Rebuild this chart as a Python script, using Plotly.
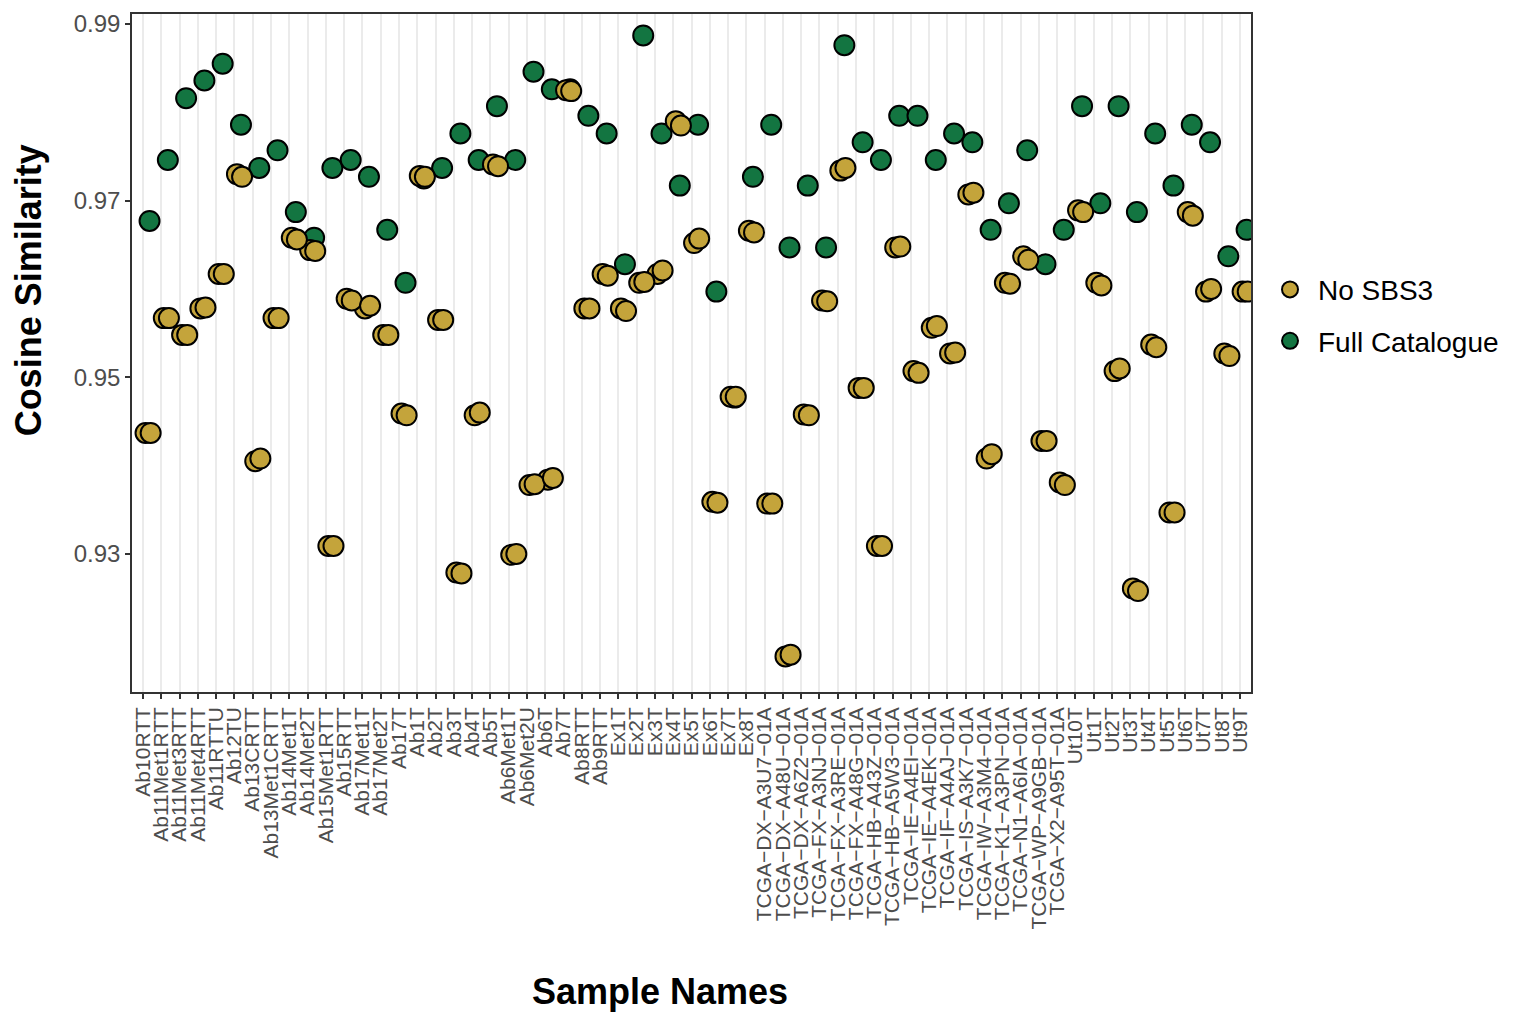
import plotly.graph_objects as go

# Sample names along the x axis
samples = [
    "Ab10RTT", "Ab11Met1RTT", "Ab11Met3RTT", "Ab11Met4RTT", "Ab11RTTU", "Ab12TU",
    "Ab13CRTT", "Ab13Met1CRTT", "Ab14Met1T", "Ab14Met2T", "Ab15Met1RTT", "Ab15RTT",
    "Ab17Met1T", "Ab17Met2T", "Ab17T", "Ab1T", "Ab2T", "Ab3T", "Ab4T", "Ab5T",
    "Ab6Met1T", "Ab6Met2U", "Ab6T", "Ab7T", "Ab8RTT", "Ab9RTT",
    "Ex1T", "Ex2T", "Ex3T", "Ex4T", "Ex5T", "Ex6T", "Ex7T", "Ex8T",
    "TCGA−DX−A3U7−01A", "TCGA−DX−A48U−01A", "TCGA−DX−A6Z2−01A", "TCGA−FX−A3NJ−01A",
    "TCGA−FX−A3RE−01A", "TCGA−FX−A48G−01A", "TCGA−HB−A43Z−01A", "TCGA−HB−A5W3−01A",
    "TCGA−IE−A4EI−01A", "TCGA−IE−A4EK−01A", "TCGA−IF−A4AJ−01A", "TCGA−IS−A3K7−01A",
    "TCGA−IW−A3M4−01A", "TCGA−K1−A3PN−01A", "TCGA−N1−A6IA−01A", "TCGA−WP−A9GB−01A",
    "TCGA−X2−A95T−01A",
    "Ut10T", "Ut1T", "Ut2T", "Ut3T", "Ut4T", "Ut5T", "Ut6T", "Ut7T", "Ut8T", "Ut9T",
]

# Cosine similarity, full catalogue fit
full_catalogue = [
    0.9677, 0.9746, 0.9816, 0.9836, 0.9855, 0.9786,
    0.9737, 0.9757, 0.9687, 0.9658, 0.9737, 0.9746,
    0.9727, 0.9667, 0.9607, 0.9725, 0.9737, 0.9776, 0.9746, 0.9807,
    0.9746, 0.9846, 0.9826, 0.9826, 0.9796, 0.9776,
    0.9628, 0.9887, 0.9776, 0.9717, 0.9786, 0.9597, 0.9477, 0.9727,
    0.9786, 0.9647, 0.9717, 0.9647,
    0.9876, 0.9766, 0.9746, 0.9796,
    0.9796, 0.9746, 0.9776, 0.9766,
    0.9667, 0.9697, 0.9757, 0.9628,
    0.9667,
    0.9807, 0.9697, 0.9807, 0.9687, 0.9776, 0.9717, 0.9786, 0.9766, 0.9637, 0.9667,
]

# Cosine similarity without SBS3, replicate fits A and B
no_sbs3_a = [
    0.9437, 0.9567, 0.9548, 0.9578, 0.9617, 0.9730,
    0.9405, 0.9567, 0.9658, 0.9644, 0.9309, 0.9589,
    0.9578, 0.9548, 0.9459, 0.9728, 0.9565, 0.9279, 0.9457, 0.9741,
    0.9299, 0.9378, 0.9384, 0.9825, 0.9578, 0.9617,
    0.9578, 0.9607, 0.9617, 0.9790, 0.9652, 0.9359, 0.9478, 0.9666,
    0.9357, 0.9184, 0.9458, 0.9587,
    0.9734, 0.9488, 0.9309, 0.9647,
    0.9507, 0.9556, 0.9527, 0.9707,
    0.9408, 0.9607, 0.9637, 0.9428,
    0.9381,
    0.9689, 0.9607, 0.9507, 0.9261, 0.9537, 0.9347, 0.9687, 0.9597, 0.9527, 0.9597,
]
no_sbs3_b = [
    0.9437, 0.9567, 0.9548, 0.9579, 0.9617, 0.9727,
    0.9408, 0.9567, 0.9656, 0.9643, 0.9309, 0.9587,
    0.9581, 0.9548, 0.9457, 0.9727, 0.9565, 0.9278, 0.9460, 0.9739,
    0.9300, 0.9379, 0.9386, 0.9824, 0.9578, 0.9615,
    0.9575, 0.9608, 0.9621, 0.9785, 0.9657, 0.9358, 0.9478, 0.9664,
    0.9357, 0.9186, 0.9457, 0.9586,
    0.9737, 0.9488, 0.9309, 0.9648,
    0.9505, 0.9558, 0.9528, 0.9709,
    0.9413, 0.9606, 0.9633, 0.9428,
    0.9378,
    0.9687, 0.9604, 0.9510, 0.9258, 0.9534, 0.9347, 0.9683, 0.9600, 0.9524, 0.9597,
]

y_ticks = [0.93, 0.95, 0.97, 0.99]

GOLD = "#C4A43B"
GREEN = "#137541"
positions = list(range(1, len(samples) + 1))

marker_common = dict(size=20, line=dict(color="black", width=2))

fig = go.Figure()
fig.add_trace(go.Scatter(
    x=[p + 0.36 for p in positions], y=full_catalogue, mode="markers",
    name="Full Catalogue", legendrank=2,
    marker=dict(color=GREEN, **marker_common),
))
fig.add_trace(go.Scatter(
    x=[p + 0.14 for p in positions], y=no_sbs3_a, mode="markers",
    name="No SBS3", legendrank=1, legendgroup="nosbs3",
    marker=dict(color=GOLD, **marker_common),
))
fig.add_trace(go.Scatter(
    x=[p + 0.42 for p in positions], y=no_sbs3_b, mode="markers",
    name="No SBS3", legendgroup="nosbs3", showlegend=False,
    marker=dict(color=GOLD, **marker_common),
))

L, R, T, B = 132, 1251, 10, 692
W, H = 1531, 1014


def px_x(px):
    return (px - L) / (R - L)


def px_y(py):
    return (B - py) / (B - T)


fig.update_layout(
    width=W, height=H,
    margin=dict(l=L, r=W - R, t=T, b=H - B, pad=0),
    paper_bgcolor="white", plot_bgcolor="white",
    font=dict(family="Liberation Sans, Arial, sans-serif", color="black"),
    showlegend=True,
    legend=dict(
        x=px_x(1262), y=px_y(313), xanchor="left", yanchor="middle",
        font=dict(size=28, color="black"), itemsizing="trace", itemwidth=46,
        bgcolor="rgba(0,0,0,0)", tracegroupgap=12,
    ),
    annotations=[
        dict(text="<b>Cosine Similarity</b>", x=px_x(28), y=px_y(288),
             xref="paper", yref="paper", showarrow=False, textangle=-90,
             font=dict(size=36, color="black"), xanchor="center", yanchor="middle"),
        dict(text="<b>Sample Names</b>", x=px_x(660), y=px_y(993),
             xref="paper", yref="paper", showarrow=False,
             font=dict(size=36, color="black"), xanchor="center", yanchor="middle"),
    ],
)

fig.update_xaxes(
    range=[0.4, len(samples) + 0.6],
    tickmode="array", tickvals=positions, ticktext=samples,
    tickangle=-90, tickfont=dict(size=21, color="#4D4D4D"),
    ticks="outside", ticklen=5, tickwidth=1.5, tickcolor="#333333",
    showgrid=True, gridcolor="#EBEBEB", gridwidth=1.8,
    showline=True, linecolor="#333333", linewidth=1.5, mirror=True,
    zeroline=False,
)
fig.update_yaxes(
    range=[0.91437, 0.99113],
    tickmode="array", tickvals=y_ticks, ticktext=[f"{v:.2f}" for v in y_ticks],
    tickfont=dict(size=24, color="#4D4D4D"),
    ticks="outside", ticklen=5, tickwidth=1.5, tickcolor="#333333",
    showgrid=False,
    showline=True, linecolor="#333333", linewidth=1.5, mirror=True,
    zeroline=False,
)

fig.write_html("out.html")
